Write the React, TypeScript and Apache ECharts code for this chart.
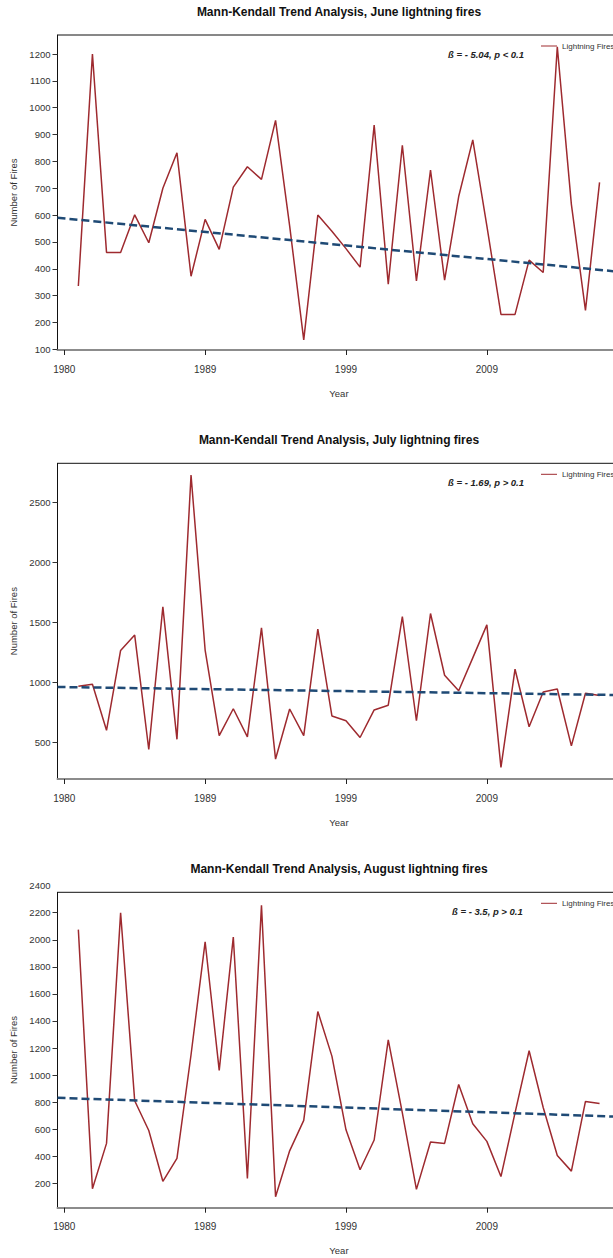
import React, { useEffect, useRef } from "react";
import * as echarts from "echarts";

// ---------- data ----------
const obsIndex = [
  1, 2, 3, 4, 5, 6, 7, 8, 9, 10, 11, 12, 13, 14, 15, 16, 17, 18, 19, 20,
  21, 22, 23, 24, 25, 26, 27, 28, 29, 30, 31, 32, 33, 34, 35, 36, 37, 38,
];
const xTickPositions = [0, 10, 20, 30];
const xTickLabels = ["1980", "1989", "1999", "2009"];

const juneFires = [
  336, 1200, 461, 461, 601, 497, 700, 832, 372, 584, 472, 704, 780, 733, 953,
  560, 135, 600, 540, 475, 406, 935, 343, 860, 355, 768, 358, 669, 880, 560,
  230, 230, 432, 386, 1227, 640, 245, 722,
];
const julyFires = [
  967, 985, 600, 1267, 1395, 440, 1630, 525, 2731, 1270, 555, 780, 545, 1455,
  360, 778, 555, 1445, 720, 680, 540, 770, 810, 1550, 680, 1575, 1060, 930,
  1205, 1480, 290, 1110, 630, 920, 945, 470, 910, 890,
];
const augustFires = [
  2075, 160, 495, 2200, 810, 590, 215, 385, 1150, 1985, 1035, 2020, 235, 2255,
  100, 440, 665, 1470, 1140, 595, 300, 520, 1260, 720, 155, 505, 495, 930, 640,
  510, 250, 720, 1180, 760, 405, 290, 805, 790,
];

const juneTicks = [100, 200, 300, 400, 500, 600, 700, 800, 900, 1000, 1100, 1200];
const julyTicks = [500, 1000, 1500, 2000, 2500];
const augustTicks = [200, 400, 600, 800, 1000, 1200, 1400, 1600, 1800, 2000, 2200];
const augustExtraLabel = 2400;

const months = ["June", "July", "August"];
const betaTexts = ["ß = - 5.04, p < 0.1", "ß = - 1.69, p > 0.1", "ß = - 3.5, p > 0.1"];
const trendIntercepts = [587.5, 961, 830];
const trendSlopes = [-5.04, -1.69, -3.5];
const seriesName = "Lightning Fires";

// ---------- layout ----------
const FONT = "Liberation Sans, Arial, sans-serif";
const CHART_W = 678;
const GRID_LEFT = 57.5;
const GRID_W = 562.9;
const X_MIN = -0.48;
const X_MAX = 39.48;
const panels = [
  { top: 35, height: 315, yMin: 97.4, yMax: 1270.8, ticks: juneTicks, values: juneFires, betaLeft: 448 },
  { top: 463.3, height: 315.7, yMin: 193.7, yMax: 2828.9, ticks: julyTicks, values: julyFires, betaLeft: 448 },
  { top: 892.3, height: 315.4, yMin: 19.7, yMax: 2350.8, ticks: augustTicks, values: augustFires, betaLeft: 452 },
];

export default function App() {
  const ref = useRef<HTMLDivElement>(null);
  useEffect(() => {
    if (!ref.current) return;
    const chart = echarts.init(ref.current, null, { renderer: "svg" });
    const textColor = "#333";
    const lineColor = "#9e2a2f";

    const option: any = {
      animation: false,
      backgroundColor: "#fff",
      textStyle: { fontFamily: FONT },
      title: [
        ...panels.map((p, i) => ({
          text: `Mann-Kendall Trend Analysis, ${months[i]} lightning fires`,
          left: "center",
          top: p.top - 29,
          padding: 0,
          textStyle: { fontSize: 12, fontWeight: "bold", color: "#111", fontFamily: FONT, lineHeight: 12 },
        })),
        ...panels.map((p, i) => ({
          text: betaTexts[i],
          left: p.betaLeft,
          top: p.top + 14,
          padding: 0,
          textStyle: {
            fontSize: 9.5,
            fontWeight: "bold",
            fontStyle: "italic",
            color: "#222",
            fontFamily: FONT,
            lineHeight: 10,
          },
        })),
      ],
      legend: panels.map((p) => ({
        data: [{ name: seriesName, icon: "rect" }],
        left: 541,
        top: p.top + 7,
        padding: 0,
        itemWidth: 16,
        itemHeight: 1,
        selectedMode: false,
        itemStyle: { color: lineColor },
        textStyle: { fontSize: 8, color: textColor, fontFamily: FONT, lineHeight: 8 },
      })),
      grid: panels.map((p) => ({
        left: GRID_LEFT,
        width: GRID_W,
        top: p.top,
        height: p.height,
        show: true,
        borderColor: "#111",
        borderWidth: 1,
        backgroundColor: "transparent",
        containLabel: false,
      })),
      xAxis: panels.map((p, i) => ({
        type: "value",
        gridIndex: i,
        min: X_MIN,
        max: X_MAX,
        axisLine: { show: true, onZero: false, lineStyle: { color: "#8c8c8c", width: 2 } },
        axisTick: { show: true, customValues: xTickPositions, length: 5, lineStyle: { color: "#222" } },
        axisLabel: {
          customValues: xTickPositions,
          formatter: (v: number) => xTickLabels[xTickPositions.indexOf(v)] ?? "",
          fontSize: 10,
          color: textColor,
          margin: 14,
          fontFamily: FONT,
        },
        splitLine: { show: false },
        name: "Year",
        nameLocation: "middle",
        nameGap: 38,
        nameTextStyle: { fontSize: 9.5, color: textColor, fontFamily: FONT },
      })),
      yAxis: panels.map((p, i) => ({
        type: "value",
        gridIndex: i,
        min: p.yMin,
        max: p.yMax,
        axisLine: { show: true, onZero: false, lineStyle: { color: "#111", width: 1 } },
        axisTick: { show: true, customValues: p.ticks, length: 5, lineStyle: { color: "#333" } },
        axisLabel: {
          customValues: p.ticks,
          formatter: (v: number) => String(v),
          fontSize: 9.5,
          color: textColor,
          margin: 7,
          fontFamily: FONT,
        },
        splitLine: { show: false },
        name: "Number of Fires",
        nameLocation: "middle",
        nameGap: 38,
        nameTextStyle: { fontSize: 9.5, color: textColor, fontFamily: FONT },
      })),
      series: [
        ...panels.map((p, i) => ({
          name: seriesName,
          type: "line",
          xAxisIndex: i,
          yAxisIndex: i,
          symbol: "none",
          showSymbol: false,
          data: obsIndex.map((t, k) => [t, p.values[k]]),
          lineStyle: { color: lineColor, width: 1.5 },
          itemStyle: { color: lineColor },
          z: 2,
        })),
        ...panels.map((p, i) => ({
          name: "trend",
          type: "line",
          xAxisIndex: i,
          yAxisIndex: i,
          symbol: "none",
          showSymbol: false,
          data: [X_MIN, X_MAX].map((t) => [t, trendIntercepts[i] + trendSlopes[i] * t]),
          lineStyle: { color: "#1f4a75", width: 2.5, type: [8, 4] },
          itemStyle: { color: "#1f4a75" },
          z: 3,
        })),
      ],
    };
    chart.setOption(option);

    const yExtra = chart.convertToPixel({ yAxisIndex: 2 } as any, augustExtraLabel) as unknown as number;
    chart.setOption({
      graphic: [
        {
          type: "text",
          x: GRID_LEFT - 7,
          y: yExtra,
          style: {
            text: String(augustExtraLabel),
            align: "right",
            verticalAlign: "middle",
            fontSize: 9.5,
            fill: textColor,
            fontFamily: FONT,
          },
        },
      ],
    });

    return () => chart.dispose();
  }, []);

  return (
    <div style={{ position: "fixed", left: 0, top: 0, width: 613, height: 1258, overflow: "hidden", background: "#fff" }}>
      <div ref={ref} style={{ width: CHART_W, height: 1258 }} />
    </div>
  );
}
